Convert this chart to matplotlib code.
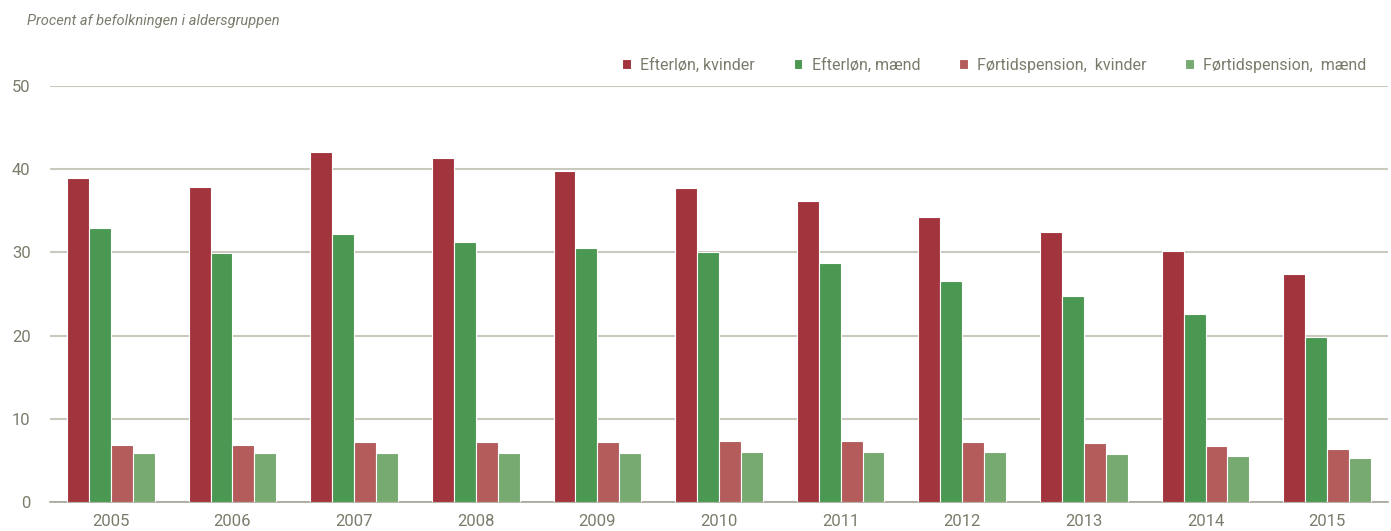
import matplotlib
matplotlib.use("Agg")
import matplotlib.pyplot as plt
import numpy as np

# data
years = ['2005', '2006', '2007', '2008', '2009', '2010', '2011', '2012', '2013', '2014', '2015']
efterloen_kvinder = [38.9, 37.9, 42.1, 41.4, 39.8, 37.8, 36.2, 34.2, 32.5, 30.2, 27.4]
efterloen_maend = [32.9, 29.9, 32.2, 31.3, 30.5, 30.05, 28.7, 26.6, 24.8, 22.6, 19.8]
foertid_kvinder = [6.9, 6.9, 7.2, 7.2, 7.25, 7.3, 7.3, 7.2, 7.05, 6.7, 6.4]
foertid_maend = [5.9, 5.9, 5.9, 5.85, 5.9, 5.95, 5.95, 5.95, 5.8, 5.5, 5.3]

series = [
    ('Efterløn, kvinder', efterloen_kvinder, '#a1343c'),
    ('Efterløn, mænd', efterloen_maend, '#4a9852'),
    ('Førtidspension,  kvinder', foertid_kvinder, '#b35c5b'),
    ('Førtidspension,  mænd', foertid_maend, '#77aa70'),
]

plt.rcParams['font.family'] = ['Roboto', 'DejaVu Sans']
text_color = '#7b7b6c'

fig = plt.figure(figsize=(13.91, 5.31), dpi=100)
ax = fig.add_axes([50 / 1391, 29 / 531, 1338 / 1391, 416 / 531])

x = np.arange(len(years))
width = 0.18
for i, (name, vals, color) in enumerate(series):
    ax.bar(x + (i - 1.5) * width, vals, width, color=color, edgecolor='white',
           linewidth=0.8, label=name, zorder=3)

ax.set_ylim(0, 50)
ax.set_xlim(-0.5, len(years) - 0.5)
ax.set_yticks(range(0, 51, 10))
ax.set_xticks(x)
ax.set_xticklabels(years)
ax.yaxis.grid(True, color='#cac9bd', linewidth=1.5, zorder=0)
ax.set_axisbelow(True)
for s in ['top', 'right', 'left']:
    ax.spines[s].set_visible(False)
ax.spines['bottom'].set_color('#a7a698')
ax.spines['bottom'].set_linewidth(1.2)
ax.tick_params(axis='both', length=0, colors=text_color, labelsize=12)
ax.tick_params(axis='y', pad=14)
ax.tick_params(axis='x', pad=9)

fig.text(27 / 1391, 1 - 21 / 531, 'Procent af befolkningen i aldersgruppen',
         fontsize=10.5, style='italic', color=text_color, va='center')

leg = ax.legend(loc='center right', bbox_to_anchor=(0.984, 1 + 21 / 416), ncol=4, frameon=False,
                fontsize=11.5, handlelength=0.55, handleheight=0.55, columnspacing=2.4,
                handletextpad=0.6, borderaxespad=0, borderpad=0)
for t in leg.get_texts():
    t.set_color(text_color)

fig.savefig('out.png', dpi=100)
